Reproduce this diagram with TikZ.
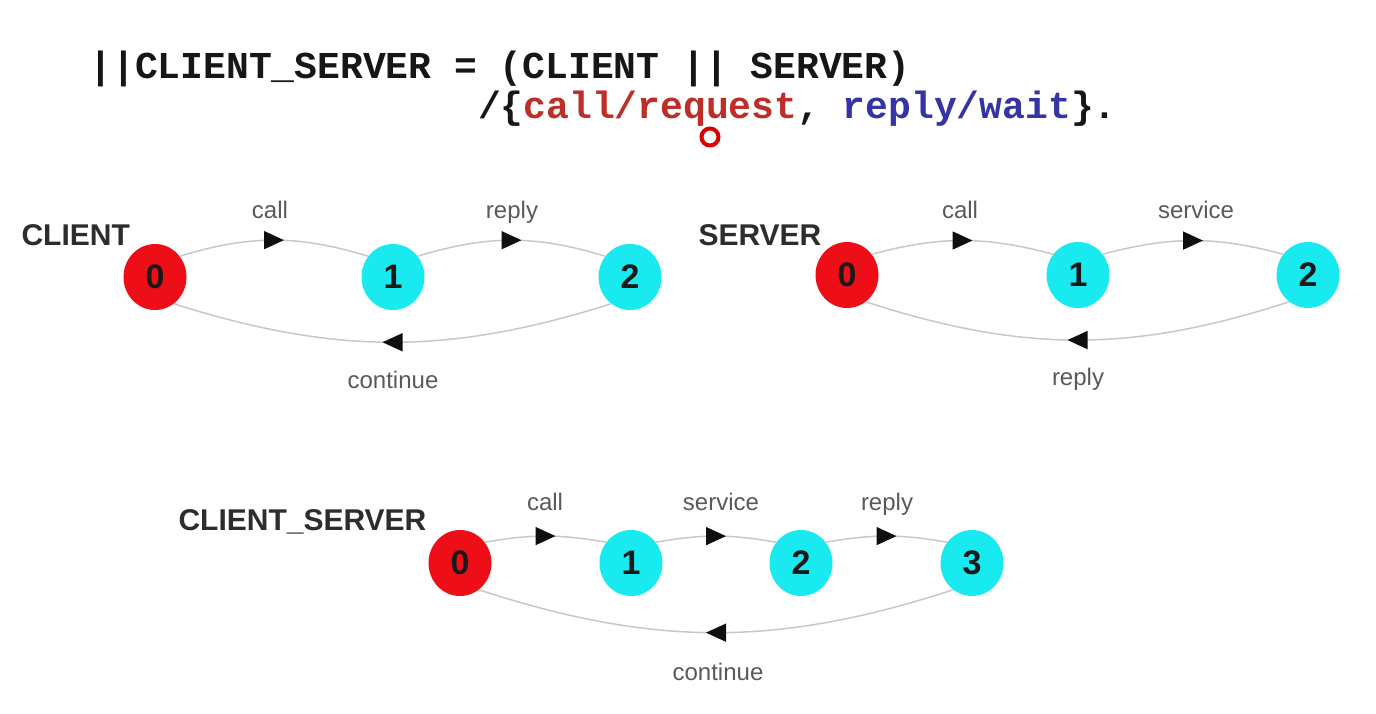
\documentclass[tikz,border=0pt]{standalone}
\usepackage{fontspec}
\setmainfont{Liberation Sans}
\newfontfamily\monofam{Liberation Mono}
\usetikzlibrary{shapes.geometric,arrows.meta,decorations.markings}
\definecolor{stred}{RGB}{238,14,24}
\definecolor{stcyan}{RGB}{24,234,240}
\definecolor{numcol}{RGB}{25,25,25}
\definecolor{edgecol}{RGB}{200,200,200}
\definecolor{arrowcol}{RGB}{15,15,15}
\definecolor{labcol}{RGB}{90,90,90}
\definecolor{proccol}{RGB}{45,45,45}
\definecolor{titlecol}{RGB}{22,22,22}
\definecolor{redc}{RGB}{190,45,40}
\definecolor{bluec}{RGB}{52,52,165}
\begin{document}
\begin{tikzpicture}[x=1pt,y=1pt,
  state/.style={ellipse,minimum width=63pt,minimum height=66pt,inner sep=0pt,
    font=\fontsize{34}{34}\selectfont\bfseries,text=numcol},
  init/.style={state,fill=stred},
  other/.style={state,fill=stcyan},
  trans/.style={draw=edgecol,line width=1.5pt,postaction={decorate},
    decoration={markings,mark=at position 0.5 with {\arrow[xshift=10pt]{Triangle[length=20pt,width=18pt,color=arrowcol]}}}},
  lab/.style={anchor=base,font=\fontsize{24}{24}\selectfont,text=labcol},
  proc/.style={anchor=base west,font=\fontsize{30}{30}\selectfont\bfseries,text=proccol},
  ttl/.style={anchor=base west,font=\monofam\bfseries\fontsize{38}{38}\selectfont,text=titlecol}]
\useasboundingbox[fill=white] (0,0) rectangle (1376,-713);

% title
\node[ttl] (t1) at (86,-78) {||CLIENT\_SERVER = (CLIENT || SERVER)};
\node[ttl] (t2) at (474.6,-118) {/\{\textcolor{redc}{call/request}, \textcolor{bluec}{reply/wait}\}.};
\node[circle,draw=red!85!black,line width=4pt,minimum size=17pt,inner sep=0pt] (cursor) at (710,-137) {};

% CLIENT
\node[proc] (lc) at (18,-245) {CLIENT};
\node[init]  (c0) at (155,-277) {0};
\node[other] (c1) at (393,-277) {1};
\node[other] (c2) at (630,-277) {2};
\draw[trans] (c0.40) to[bend left=17] (c1.140);
\draw[trans] (c1.40) to[bend left=17] (c2.140);
\draw[trans] (c2.235) to[bend left=17.5] (c0.305);
\node[lab] (lc01) at (270,-218) {call};
\node[lab] (lc12) at (512,-218) {reply};
\node[lab] (lc20) at (393,-388) {continue};

% SERVER
\node[proc] (ls) at (695,-245) {SERVER};
\node[init]  (s0) at (847,-275) {0};
\node[other] (s1) at (1078,-275) {1};
\node[other] (s2) at (1308,-275) {2};
\draw[trans] (s0.40) to[bend left=15] (s1.140);
\draw[trans] (s1.40) to[bend left=15] (s2.140);
\draw[trans] (s2.235) to[bend left=18] (s0.305);
\node[lab] (ls01) at (960,-218) {call};
\node[lab] (ls12) at (1196,-218) {service};
\node[lab] (ls20) at (1078,-385) {reply};

% CLIENT_SERVER
\node[proc] (lcs) at (175,-530) {CLIENT\_SERVER};
\node[init]  (p0) at (460,-563) {0};
\node[other] (p1) at (631,-563) {1};
\node[other] (p2) at (801,-563) {2};
\node[other] (p3) at (972,-563) {3};
\draw[trans] (p0.40) to[bend left=10] (p1.140);
\draw[trans] (p1.40) to[bend left=10] (p2.140);
\draw[trans] (p2.40) to[bend left=10] (p3.140);
\draw[trans] (p3.235) to[bend left=18] (p0.305);
\node[lab] (lp01) at (545,-510) {call};
\node[lab] (lp12) at (721,-510) {service};
\node[lab] (lp23) at (887,-510) {reply};
\node[lab] (lp30) at (718,-680) {continue};
\end{tikzpicture}
\end{document}
